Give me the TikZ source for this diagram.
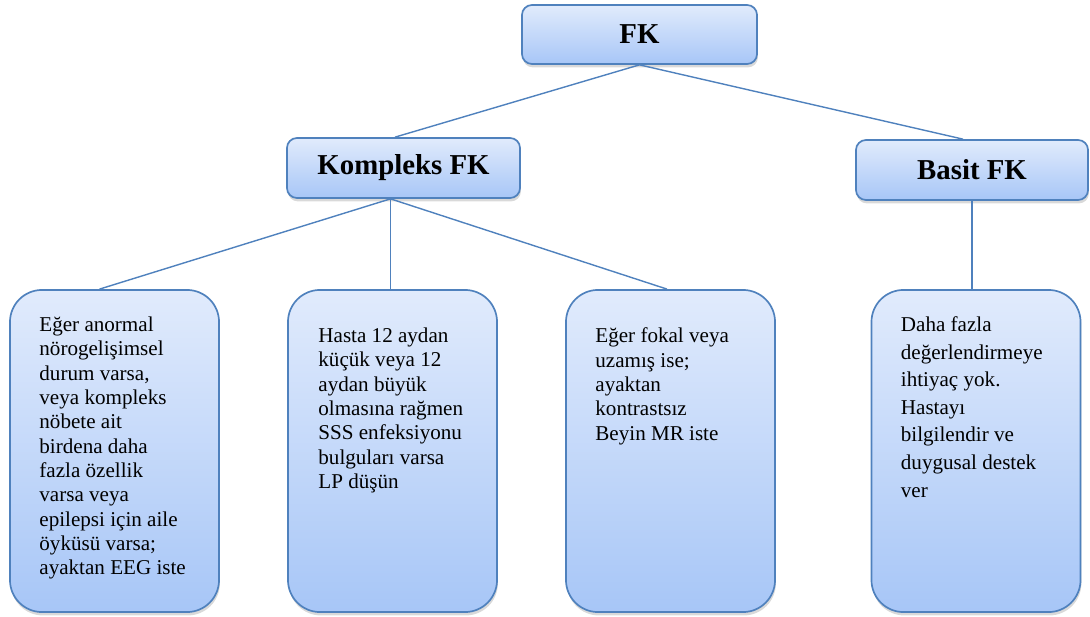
\documentclass[tikz,border=0pt]{standalone}
\usepackage{fontspec}
\setmainfont{Liberation Serif}
\usetikzlibrary{calc,shadows}
\definecolor{fkline}{HTML}{4F81BD}
\definecolor{fktop}{HTML}{E1EBFC}
\definecolor{fkbottom}{HTML}{A7C6F7}

\begin{document}
\begin{tikzpicture}[x=0.025cm,y=-0.025cm,
    kutu/.style={draw=fkline,line width=1.2pt,top color=fktop,bottom color=fkbottom,
      drop shadow={shadow xshift=0.6pt,shadow yshift=-2.4pt,opacity=0.3}},
    baslik/.style={kutu,rounded corners=0.25cm,font=\fontsize{20.5}{24}\selectfont\bfseries},
    adim/.style={kutu,rounded corners=0.8cm,minimum width=5.225cm,minimum height=8.05cm},
    yazi/.style={anchor=north west,inner sep=0pt,align=left,font=\fontsize{15}{17.3}\selectfont},
    cizgi/.style={fkline,line width=1pt}]
            \useasboundingbox (0,0) rectangle (1090,617);

            \node[baslik,minimum width=5.875cm,minimum height=1.475cm] (fk) at (639.5,34.5) {FK};
            \node[baslik,minimum width=5.825cm,minimum height=1.5cm] (kompleks) at (403.5,168) {Kompleks FK};
            \node[baslik,minimum width=5.8cm,minimum height=1.5cm] (basit) at (972,170) {Basit FK};

            \node[adim] (eeg) at (114.5,451) {};
            \node[adim] (lp) at (392.5,451) {};
            \node[adim] (mr) at (670.5,451) {};
            \node[adim] (destek) at (976,451) {};

            \node[yazi] (eegyazi) at ($(eeg.north west)+(30,27.5)$) {Eğer anormal\\nörogelişimsel\\durum varsa,\\veya kompleks\\nöbete ait\\birdena daha\\fazla özellik\\varsa veya\\epilepsi için aile\\öyküsü varsa;\\ayaktan EEG iste};
            \node[yazi] (lpyazi) at ($(lp.north west)+(31,38.5)$) {Hasta 12 aydan\\küçük veya 12\\aydan büyük\\olmasına rağmen\\SSS enfeksiyonu\\bulguları varsa\\LP düşün};
            \node[yazi] (mryazi) at ($(mr.north west)+(30,38.5)$) {Eğer fokal veya\\uzamış ise;\\ayaktan\\kontrastsız\\Beyin MR iste};
            \node[yazi,font=\fontsize{15}{19.6}\selectfont] (destekyazi) at ($(destek.north west)+(30,27.5)$) {Daha fazla\\değerlendirmeye\\ihtiyaç yok.\\Hastayı\\bilgilendir ve\\duygusal destek\\ver};

            \coordinate (kalt) at ($(kompleks.south)+(-13,0)$);
            \draw[cizgi] (fk.south) -- ($(kompleks.north)+(-8.5,0)$);
            \draw[cizgi] (fk.south) -- ($(basit.north)+(-9,0)$);
            \draw[cizgi] (kalt) -- ($(eeg.north)+(-15,0)$);
            \draw[cizgi] (kalt) -- ($(lp.north)+(-2,0)$);
            \draw[cizgi] (kalt) -- ($(mr.north)+(-3.5,0)$);
            \draw[cizgi] (basit.south) -- (destek.north -| basit.south);
        \end{tikzpicture}
\end{document}
